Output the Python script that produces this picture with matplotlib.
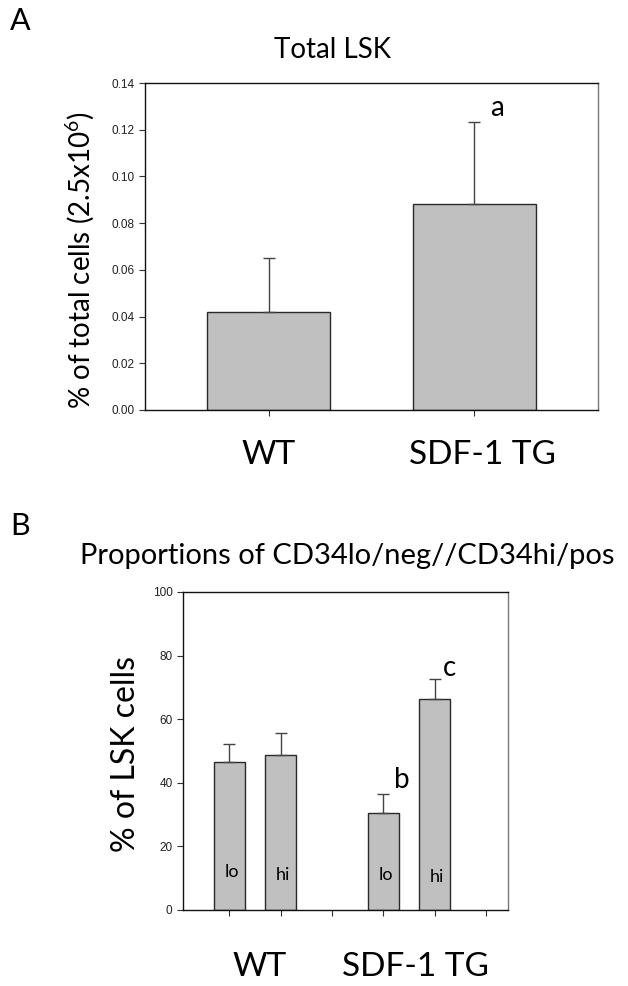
import matplotlib
matplotlib.use("Agg")
import matplotlib.pyplot as plt
import numpy as np

plt.rcParams['font.family'] = ['Lato', 'DejaVu Sans']
plt.rcParams['mathtext.fontset'] = 'custom'
plt.rcParams['mathtext.rm'] = 'Lato'

# ---- Panel A data ----
a_groups = ["WT", "SDF-1 TG"]
a_means = [0.042, 0.088]
a_err = [0.023, 0.0355]
a_yticks = [0.00, 0.02, 0.04, 0.06, 0.08, 0.10, 0.12, 0.14]

# ---- Panel B data ----
b_groups = ["WT", "SDF-1 TG"]
b_sub = ["lo", "hi", "lo", "hi"]
b_means = [46.6, 48.8, 30.5, 66.5]
b_err = [5.7, 6.8, 6.0, 6.2]
b_yticks = [0, 20, 40, 60, 80, 100]

W, H = 628, 986
fig = plt.figure(figsize=(W / 100, H / 100), dpi=100)

bar_col = "#c0c0c0"
edge_col = "#2a2a2a"
err_col = "#444444"
tick_font = dict(family=['Liberation Sans', 'DejaVu Sans'], size=8.5, color="#222222")

def ax_rect(l, t, r, b):
    return [l / W, 1 - b / H, (r - l) / W, (b - t) / H]

def style_axes(ax):
    for s in ['left', 'bottom', 'top']:
        ax.spines[s].set_color("#111111")
        ax.spines[s].set_linewidth(1.0)
    ax.spines['right'].set_color("#777777")
    ax.spines['right'].set_linewidth(1.0)
    ax.tick_params(axis='both', direction='out', length=4, width=0.8, color="#333333")
    ax.tick_params(axis='x', labelbottom=False)
    for lab in ax.get_yticklabels():
        lab.set_fontfamily(tick_font['family'])
        lab.set_fontsize(tick_font['size'])
        lab.set_color(tick_font['color'])

# ---------- Panel A ----------
axA = fig.add_axes(ax_rect(145, 83, 598, 410))
xa = np.arange(len(a_groups))
axA.bar(xa, a_means, width=0.6, color=bar_col, edgecolor=edge_col, linewidth=1.0,
        yerr=[np.zeros(len(a_err)), a_err],
        error_kw=dict(ecolor=err_col, elinewidth=1.0, capsize=4, capthick=1.0))
axA.set_xlim(-0.6, 1.6)
axA.set_ylim(0, 0.14)
axA.set_xticks(xa)
axA.set_yticks(a_yticks)
axA.set_yticklabels([f"{v:.2f}" for v in a_yticks])
style_axes(axA)
trA = axA.get_xaxis_transform()
for xpos, g in zip([0.0, 1.04], a_groups):
    axA.text(xpos, -0.138, g, transform=trA, ha='center', va='center', fontsize=24)
axA.text(1.11, 0.1293, "a", ha='center', va='center', fontsize=20)

fig.text(332 / W, 1 - 50 / H, "Total LSK", ha='center', va='center', fontsize=20)
fig.text(80 / W, 1 - 260 / H, r"% of total cells (2.5x10$^{\mathregular{6}}$)",
         rotation=90, ha='center', va='center', fontsize=20)
fig.text(20 / W, 1 - 21 / H, "A", ha='center', va='center', fontsize=22)

# ---------- Panel B ----------
axB = fig.add_axes(ax_rect(183, 592, 508, 910))
xb = np.array([0, 1, 3, 4])
axB.bar(xb, b_means, width=0.6, color=bar_col, edgecolor=edge_col, linewidth=1.0,
        yerr=[np.zeros(len(b_err)), b_err],
        error_kw=dict(ecolor=err_col, elinewidth=1.0, capsize=4, capthick=1.0))
axB.set_xlim(-0.9, 5.43)
axB.set_ylim(0, 100)
axB.set_xticks(np.arange(6))
axB.set_yticks(b_yticks)
axB.set_yticklabels([str(v) for v in b_yticks])
style_axes(axB)
for xpos, lab, yv in zip(xb, b_sub, [11.9, 11.0, 11.0, 10.5]):
    axB.text(xpos + 0.05, yv, lab, ha='center', va='center', fontsize=13)
axB.text(3.37, 40.9, "b", ha='center', va='center', fontsize=20)
axB.text(4.3, 76.1, "c", ha='center', va='center', fontsize=20)
trB = axB.get_xaxis_transform()
for xpos, g in zip([0.6, 3.62], b_groups):
    axB.text(xpos, -0.179, g, transform=trB, ha='center', va='center', fontsize=24)

fig.text(347 / W, 1 - 556 / H, "Proportions of CD34lo/neg//CD34hi/pos",
         ha='center', va='center', fontsize=21)
fig.text(126 / W, 1 - 754 / H, "% of LSK cells", rotation=90,
         ha='center', va='center', fontsize=23)
fig.text(20 / W, 1 - 526 / H, "B", ha='center', va='center', fontsize=22)

fig.savefig("out.png", dpi=100)
